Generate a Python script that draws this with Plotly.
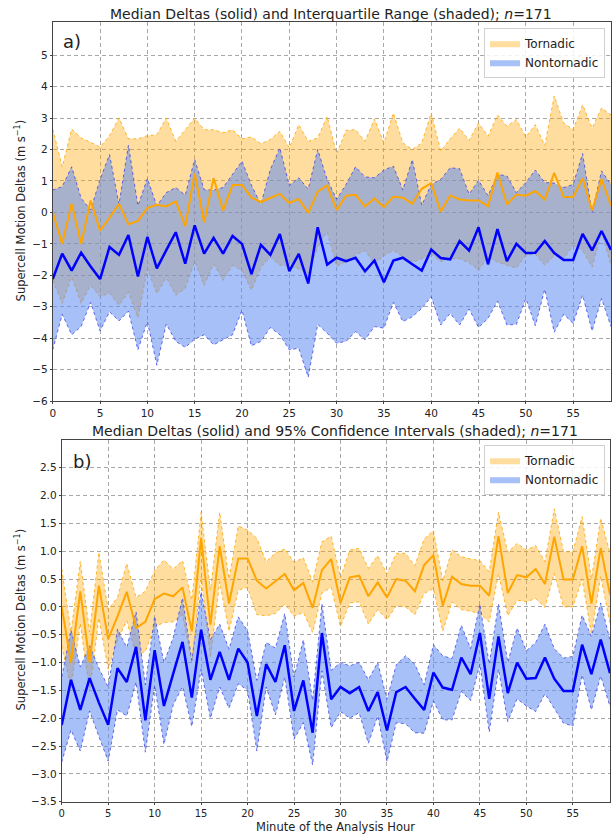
import plotly.graph_objects as go

minutes = list(range(60))

tor_median = [0.0, -1.0, 0.28, -1.0, 0.38, -0.58, -0.17, 0.27, -0.38, -0.27,
              0.14, 0.24, 0.19, 0.35, -0.44, 1.24, -0.32, 1.09, 0.06, 0.87,
              0.87, 0.47, 0.33, 0.46, 0.59, 0.30, 0.43, -0.02, 0.66, 0.86,
              0.07, 0.53, 0.56, 0.19, 0.44, 0.17, 0.50, 0.47, 0.28, 0.75,
              0.93, 0.02, 0.54, 0.41, 0.38, 0.38, 0.20, 1.27, 0.25, 0.57,
              0.53, 0.68, 0.41, 1.26, 0.49, 0.49, 1.09, 0.06, 1.06, 0.22]
non_median = [-2.12, -1.31, -1.85, -1.28, -1.72, -2.12, -1.10, -1.35, -0.72, -2.04,
              -0.78, -1.78, -1.20, -0.63, -1.63, -0.41, -1.31, -0.81, -1.31, -0.75,
              -1.0, -1.96, -1.03, -1.35, -0.69, -1.87, -1.32, -2.26, -0.47, -1.66,
              -1.44, -1.55, -1.44, -1.87, -1.53, -2.22, -1.53, -1.44, -1.65, -1.85,
              -1.18, -1.45, -1.49, -0.91, -1.21, -0.47, -1.65, -0.53, -1.55, -1.0,
              -1.29, -1.28, -0.91, -1.29, -1.51, -1.51, -0.68, -1.21, -0.59, -1.19]

# Interquartile range (panel a)
tor_q3 = [2.65, 1.45, 2.65, 2.37, 2.23, 2.08, 2.44, 3.0, 2.34, 2.34,
          2.44, 2.47, 3.0, 2.26, 2.63, 3.0, 2.63, 2.63, 2.53, 2.63,
          2.34, 2.4, 2.18, 2.32, 2.58, 2.05, 2.79, 2.26, 2.37, 3.05,
          1.87, 2.61, 2.63, 2.26, 2.97, 2.21, 3.16, 2.21, 2.0, 2.21,
          3.16, 1.95, 2.34, 2.68, 2.29, 2.84, 2.42, 3.1, 2.74, 2.95,
          2.4, 2.79, 2.13, 3.7, 2.84, 2.63, 3.42, 2.68, 3.32, 3.1]
tor_q1 = [-2.16, -2.89, -2.05, -2.89, -2.32, -2.68, -2.56, -2.95, -2.53, -3.35,
          -1.79, -2.58, -2.07, -2.63, -2.42, -1.56, -2.32, -1.63, -2.16, -1.68,
          -1.84, -2.47, -1.74, -1.42, -1.68, -1.7, -1.79, -1.95, -1.1, -0.61,
          -1.71, -1.56, -1.35, -1.21, -1.63, -1.37, -1.21, -1.42, -1.58, -1.47,
          -1.32, -1.56, -1.47, -1.47, -1.6, -1.84, -1.42, -1.58, -1.68, -1.77,
          -1.37, -1.32, -1.68, -1.37, -1.47, -1.05, -1.21, -1.74, -0.63, -1.68]
non_q3 = [0.71, 0.82, 1.45, 0.45, 0.08, 1.05, 1.84, 0.26, 2.14, 0.21,
          1.08, 0.21, 0.63, 0.79, 0.55, 1.68, 0.72, 0.71, 0.79, 1.21,
          1.63, 0.86, 0.26, 1.37, 2.05, 0.86, 1.1, 0.74, 2.0, 1.05,
          0.42, 0.89, 1.45, 1.13, 1.1, 1.35, 1.47, 0.71, 1.68, 0.23,
          0.89, 1.05, 1.42, 1.39, 0.58, 1.02, 0.53, 1.21, 1.16, 0.63,
          0.95, 1.35, 0.95, 0.93, 0.79, 0.89, 1.87, 0.0, 1.32, 0.89]
non_q1 = [-4.37, -3.24, -3.89, -3.63, -2.86, -3.77, -3.16, -3.45, -3.14, -4.37,
          -3.47, -4.86, -3.55, -4.1, -4.29, -4.03, -3.89, -4.21, -4.05, -3.89,
          -3.11, -4.24, -4.1, -3.66, -3.89, -4.37, -4.32, -5.24, -3.56, -3.84,
          -4.16, -4.1, -3.79, -4.05, -3.63, -3.68, -2.86, -3.47, -3.32, -3.05,
          -2.68, -3.58, -3.21, -3.58, -3.07, -3.66, -3.37, -2.82, -3.58, -3.56,
          -2.74, -3.6, -2.44, -3.81, -3.24, -3.53, -2.63, -3.77, -2.74, -3.63]

# 95% confidence intervals (panel b)
tor_ci_hi = [0.68, -0.45, 0.82, -0.45, 0.98, -0.05, 0.17, 0.78, 0.17, 0.28,
             0.65, 0.84, 0.68, 0.83, 0.12, 1.70, 0.3, 1.70, 0.5, 1.45,
             1.38, 1.23, 0.81, 0.97, 1.04, 0.80, 0.88, 0.45, 1.17, 1.27,
             0.52, 1.02, 1.05, 0.69, 0.92, 0.59, 0.96, 0.96, 0.74, 1.22,
             1.37, 0.46, 1.02, 0.9, 0.86, 0.83, 0.63, 1.70, 0.98, 1.14,
             1.02, 1.1, 0.81, 1.76, 0.99, 0.99, 1.62, 0.5, 1.59, 0.96]
tor_ci_lo = [-0.7, -1.45, -0.3, -1.52, -0.2, -1.12, -0.6, -0.25, -0.88, -0.8,
             -0.36, -0.28, -0.27, -0.14, -1.0, 0.55, -0.91, 0.45, -0.44, 0.3,
             0.35, -0.14, -0.16, -0.12, 0.05, -0.17, -0.1, -0.46, 0.25, 0.35,
             -0.35, 0.07, 0.09, -0.31, -0.05, -0.23, 0.02, 0.0, -0.14, 0.24,
             0.33, -0.44, 0.09, -0.05, -0.08, -0.12, -0.27, 0.6, -0.16, 0.12,
             0.09, 0.15, -0.01, 0.6, 0.0, 0.0, 0.5, -0.5, 0.55, -0.3]
non_ci_hi = [-1.26, -0.42, -1.08, -0.70, -1.1, -1.44, -0.40, -0.73, -0.09, -1.4,
             -0.17, -1.0, -0.55, 0.16, -0.96, 0.27, -0.59, -0.31, -0.76, -0.18,
             -0.43, -1.32, -0.64, -0.74, -0.12, -1.26, -0.59, -1.68, 0.05, -1.14,
             -1.0, -1.06, -1.0, -1.31, -1.0, -1.66, -1.04, -0.88, -1.03, -1.4,
             -0.68, -0.88, -0.93, -0.33, -0.75, 0.05, -1.03, 0.05, -1.0, -0.38,
             -0.79, -0.64, -0.31, -0.75, -0.92, -0.89, -0.15, -0.53, 0.07, -0.6]
non_ci_lo = [-2.79, -2.21, -2.59, -1.87, -2.33, -2.77, -1.85, -1.96, -1.35, -2.61,
             -1.41, -2.47, -1.76, -1.43, -2.15, -1.12, -2.0, -1.44, -1.82, -1.38,
             -1.5, -2.59, -1.44, -1.94, -1.26, -2.38, -2.08, -2.84, -1.15, -2.17,
             -1.88, -2.0, -1.9, -2.45, -1.96, -2.78, -2.08, -2.1, -2.26, -2.27,
             -1.69, -2.03, -2.03, -1.52, -1.68, -1.03, -2.25, -1.12, -2.06, -1.65,
             -1.78, -1.88, -1.56, -1.82, -2.09, -2.14, -1.22, -1.85, -1.24, -1.79]

x_ticks = [0, 5, 10, 15, 20, 25, 30, 35, 40, 45, 50, 55]
ya_ticks = [-6, -5, -4, -3, -2, -1, 0, 1, 2, 3, 4, 5]
yb_ticks = [-3.5, -3.0, -2.5, -2.0, -1.5, -1.0, -0.5, 0.0, 0.5, 1.0, 1.5, 2.0, 2.5]

ORANGE = "#ffa500"
BLUE = "#0000ff"
ORANGE_FILL = "rgba(255,165,0,0.38)"
BLUE_FILL = "rgba(95,140,240,0.55)"
BLUE_EDGE = "rgba(60,60,230,0.85)"
ORANGE_EDGE = "rgba(255,165,0,0.9)"
FONT = "DejaVu Sans"

W, H = 612, 837


def fx(px):
    return px / W


def fy(py):
    return 1 - py / H


fig = go.Figure()


def add_panel(xa, ya, lo_t, hi_t, lo_n, hi_n, legend):
    fig.add_trace(go.Scatter(x=minutes, y=lo_t, mode="lines", xaxis=xa, yaxis=ya,
                             line=dict(color=ORANGE_EDGE, width=0.9, dash="dot"),
                             showlegend=False, hoverinfo="skip"))
    fig.add_trace(go.Scatter(x=minutes, y=hi_t, mode="lines", xaxis=xa, yaxis=ya,
                             fill="tonexty", fillcolor=ORANGE_FILL,
                             line=dict(color=ORANGE_EDGE, width=0.9, dash="dot"),
                             showlegend=False, hoverinfo="skip"))
    fig.add_trace(go.Scatter(x=minutes, y=lo_n, mode="lines", xaxis=xa, yaxis=ya,
                             line=dict(color=BLUE_EDGE, width=0.9, dash="dot"),
                             showlegend=False, hoverinfo="skip"))
    fig.add_trace(go.Scatter(x=minutes, y=hi_n, mode="lines", xaxis=xa, yaxis=ya,
                             fill="tonexty", fillcolor=BLUE_FILL,
                             line=dict(color=BLUE_EDGE, width=0.9, dash="dot"),
                             showlegend=False, hoverinfo="skip"))
    fig.add_trace(go.Scatter(x=minutes, y=tor_median, mode="lines", xaxis=xa, yaxis=ya,
                             line=dict(color=ORANGE, width=2), showlegend=False))
    fig.add_trace(go.Scatter(x=minutes, y=non_median, mode="lines", xaxis=xa, yaxis=ya,
                             line=dict(color=BLUE, width=2.5), showlegend=False))
    # legend swatches
    fig.add_trace(go.Scatter(x=[None], y=[None], mode="lines", xaxis=xa, yaxis=ya,
                             fill="toself", fillcolor=ORANGE_FILL, line=dict(width=0),
                             name="Tornadic", legend=legend))
    fig.add_trace(go.Scatter(x=[None], y=[None], mode="lines", xaxis=xa, yaxis=ya,
                             fill="toself", fillcolor=BLUE_FILL, line=dict(width=0),
                             name="Nontornadic", legend=legend))


add_panel("x", "y", tor_q1, tor_q3, non_q1, non_q3, "legend")
add_panel("x2", "y2", tor_ci_lo, tor_ci_hi, non_ci_lo, non_ci_hi, "legend2")

axis_common = dict(showgrid=True, gridcolor="#a8a8a8", griddash="4px,3px", gridwidth=1,
                   showline=True, linecolor="#444", linewidth=1, mirror=True,
                   ticks="outside", ticklen=2, tickcolor="#444",
                   tickfont=dict(family=FONT, size=10.5, color="#222"), zeroline=False)


def fmt(v, dec):
    s = f"{abs(v):.{dec}f}"
    return ("\u2212" + s) if v < 0 else s


legend_common = dict(xanchor="right", yanchor="top", traceorder="normal",
                     bgcolor="rgba(255,255,255,0.85)", bordercolor="#d0d0d0", borderwidth=1,
                     font=dict(family=FONT, size=12, color="#222"), itemwidth=30,
                     tracegroupgap=0)

x2_axis = dict(axis_common)
x2_axis["tickfont"] = dict(family=FONT, size=10, color="#222")

fig.update_layout(
    width=W, height=H, margin=dict(l=0, r=0, t=0, b=0),
    paper_bgcolor="white", plot_bgcolor="white",
    xaxis=dict(domain=[fx(50), fx(611)], range=[0, 59], tickvals=x_ticks,
               anchor="y", **axis_common),
    yaxis=dict(domain=[fy(404), fy(22)], range=[-6, 6.06], tickvals=ya_ticks,
               ticktext=[fmt(v, 0) for v in ya_ticks], anchor="x", **axis_common),
    xaxis2=dict(domain=[fx(59), fx(610)], range=[0, 59], tickvals=x_ticks,
                anchor="y2", **x2_axis),
    yaxis2=dict(domain=[fy(807.5), fy(443)], range=[-3.5, 3.0], tickvals=yb_ticks,
                ticktext=[fmt(v, 1) for v in yb_ticks], anchor="x2", **axis_common),
    legend=dict(x=fx(605), y=fy(28), **legend_common),
    legend2=dict(x=fx(605), y=fy(448), **legend_common),
    showlegend=True,
)

ann = [
    dict(text="Median Deltas (solid) and Interquartile Range (shaded); <i>n</i>=171",
         x=fx(330), y=fy(14), size=14),
    dict(text="Median Deltas (solid) and 95% Confidence Intervals (shaded); <i>n</i>=171",
         x=fx(334), y=fy(434), size=14),
    dict(text="a)", x=fx(69), y=fy(42), size=18),
    dict(text="b)", x=fx(79), y=fy(465), size=18),
    dict(text="Minute of the Analysis Hour", x=fx(334), y=fy(833), size=11.5),
]
for a in ann:
    fig.add_annotation(text=a["text"], x=a["x"], y=a["y"], xref="paper", yref="paper",
                       xanchor="center", yanchor="middle", showarrow=False, borderpad=0,
                       font=dict(family=FONT, size=a["size"], color="#222"))

for yc in (212, 624):
    fig.add_annotation(text="Supercell Motion Deltas (m s<sup>\u22121</sup>)",
                       x=fx(18), y=fy(yc), xref="paper", yref="paper",
                       xanchor="center", yanchor="middle", textangle=-90, showarrow=False,
                       font=dict(family=FONT, size=11.5, color="#222"))

fig.write_html("out.html")
